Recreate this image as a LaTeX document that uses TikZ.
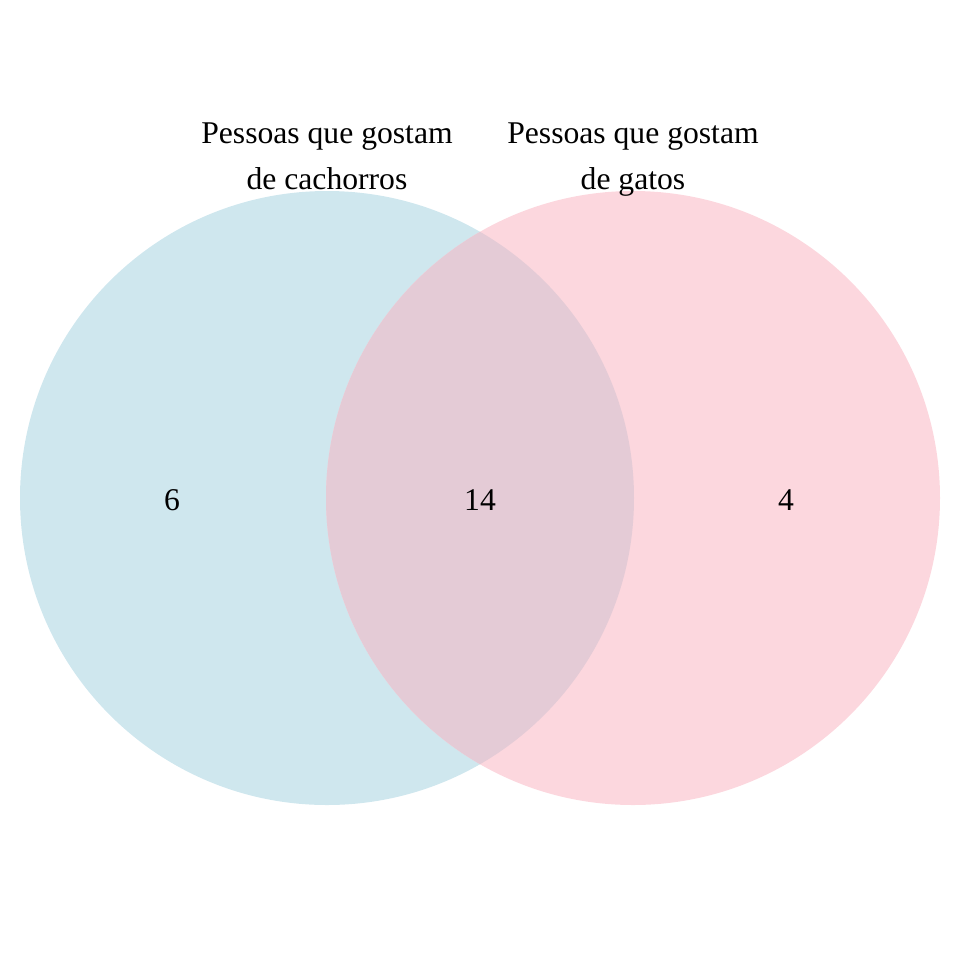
\documentclass[tikz,border=0pt]{standalone}
\usepackage{fontspec}
\setmainfont{Liberation Serif}
\usetikzlibrary{positioning}

\definecolor{dogblue}{RGB}{207,231,238}
\definecolor{catpink}{RGB}{252,215,222}
\definecolor{bothmix}{RGB}{228,203,214}

\begin{document}
\begin{tikzpicture}[
        x=0.01cm, y=-0.01cm,
        % define styles
        setlabel/.style={
            align=center,
            anchor=north,
            inner sep=0pt,
            font=\fontsize{9}{13}\selectfont
        },
        count/.style={
            inner sep=0pt,
            anchor=base,
            font=\fontsize{9}{13}\selectfont
        }
    ]
    \useasboundingbox (0,0) rectangle (960,960);

    % the two sets
    \fill[dogblue] (327,498) circle (307);
    \fill[catpink] (633,498) circle (307);

    % overlap of both sets
    \begin{scope}
        \clip (327,498) circle (307);
        \fill[bothmix] (633,498) circle (307);
    \end{scope}

    % set headings
    \node[setlabel] (dogs) at (327,122) {Pessoas que gostam\\de cachorros};
    \node[setlabel] (cats) at (633,122) {Pessoas que gostam\\de gatos};

    % counts in each region
    \node[count] (onlydogs) at (172,510) {6};
    \node[count] (both) at (480,510) {14};
    \node[count] (onlycats) at (786,510) {4};
\end{tikzpicture}
\end{document}
